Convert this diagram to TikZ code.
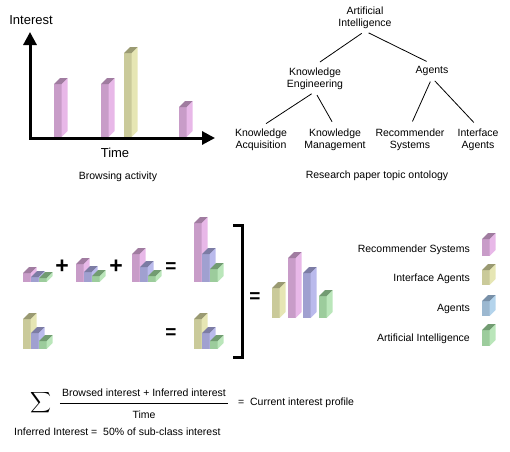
\documentclass[tikz,border=0pt]{standalone}
\usepackage{fontspec}
\setmainfont{Liberation Sans}
\usetikzlibrary{arrows.meta}

\definecolor{pinkF}{HTML}{C89CC8}\definecolor{pinkS}{HTML}{E8B8E8}\definecolor{pinkT}{HTML}{A07CA0}
\definecolor{yelF}{HTML}{CACA9A}\definecolor{yelS}{HTML}{E6E6B4}\definecolor{yelT}{HTML}{9A9A72}
\definecolor{bluF}{HTML}{A0A0D0}\definecolor{bluS}{HTML}{BABAEC}\definecolor{bluT}{HTML}{7C7CA4}
\definecolor{grnF}{HTML}{9CCC9C}\definecolor{grnS}{HTML}{BAE6BA}\definecolor{grnT}{HTML}{729C72}
\definecolor{skyF}{HTML}{9CB8D0}\definecolor{skyS}{HTML}{B4D4EC}\definecolor{skyT}{HTML}{7890A8}

% 3d bar: colour, left x, bottom y, front top y
\newcommand{\cubebar}[4]{%
  \fill[#1F] (#2,#3) rectangle (#2+7.5,#4);
  \fill[#1S] (#2+7.5,#3) -- (#2+13.5,#3-6) -- (#2+13.5,#4-6) -- (#2+7.5,#4) -- cycle;
  \fill[#1T] (#2,#4) -- (#2+6,#4-6) -- (#2+13.5,#4-6) -- (#2+7.5,#4) -- cycle;
}

\tikzset{
  lbl/.style={font=\fontsize{10.5}{12}\selectfont, inner sep=2pt},
  biglbl/.style={font=\fontsize{13}{15}\selectfont},
  topic/.style={lbl, align=center},
  branch/.style={line width=0.8pt, shorten <=4pt, shorten >=6pt},
  axis/.style={line width=3pt, {Triangle[length=13pt,width=13pt]}-{Triangle[length=13pt,width=13pt]}},
  op/.style={font=\bfseries\fontsize{19}{19}\selectfont},
  plus/.style={font=\bfseries\fontsize{23}{23}\selectfont}
}

\begin{document}
\begin{tikzpicture}[x=1pt,y=-1pt]
  \useasboundingbox (0,0) rectangle (510,451);

  % browsing activity
  \coordinate (origin) at (30,138);
  \coordinate (ytip) at (30,32);
  \coordinate (xtip) at (215,138);
  \draw[axis] (ytip) -- (origin) -- (xtip);
  \node[biglbl] (interest) at (31,20) {Interest};
  \node[biglbl] (time) at (115,153) {Time};
  \foreach \x/\yt/\c in {54/84/pink, 101/84/pink, 124/53/yel, 179/107/pink}
    \cubebar{\c}{\x}{137}{\yt};
  \node[lbl] (browsing) at (118,177) {Browsing activity};

  % topic ontology
  \node[topic] (ai) at (365,18) {Artificial\\Intelligence};
  \node[topic] (ke) at (315,78.5) {Knowledge\\Engineering};
  \node[topic] (agents) at (432,71) {Agents};
  \node[topic] (ka) at (261,140) {Knowledge\\Acquisition};
  \node[topic] (km) at (335,140) {Knowledge\\Management};
  \node[topic] (rs) at (410,140) {Recommender\\Systems};
  \node[topic] (ia) at (478,140) {Interface\\Agents};
  \foreach \a/\b in {ai/ke, ai/agents, ke/ka, ke/km, agents/rs, agents/ia}
    \draw[branch] (\a.south) -- (\b.north);
  \node[lbl] (ontology) at (377,176) {Research paper topic ontology};

  % interest sums
  \foreach \x/\y/\a/\pa/\pb/\pc in {23/282/pink/273/277/278, 76/282/pink/264/272/276,
    132/282/pink/254/267/276, 194/282/pink/223/254/269, 23/349/yel/319/333/341, 194/349/yel/319/333/341}
  {
    \cubebar{\a}{\x}{\y}{\pa};
    \cubebar{blu}{\x+8}{\y}{\pb};
    \cubebar{grn}{\x+16}{\y}{\pc};
  }
  \node[plus] (plus1) at (62,267) {+};
  \node[plus] (plus2) at (116,267) {+};
  \node[op] (eq1) at (171,268) {=};
  \node[op] (eq2) at (171,334) {=};
  \draw[line width=3pt] (233,225) -- (242,225) -- (242,357) -- (233,357);
  \node[op] (eq3) at (255,298) {=};
  \foreach \x/\yt/\c in {272/288/yel, 288/258/pink, 303/273/blu, 319/296/grn}
    \cubebar{\c}{\x}{318}{\yt};

  % legend
  \foreach \yt/\yb/\ty/\c/\txt in {239/256/250/pink/Recommender Systems, 270/285/279/yel/Interface Agents,
    301/316/309/sky/Agents, 330/346/339/grn/Artificial Intelligence}
  {
    \cubebar{\c}{482}{\yb}{\yt};
    \node[lbl, anchor=east] (leg\c) at (472,\ty) {\txt};
  }

  % formula
  \node[scale=1.45] (sum) at (41,403) {$\displaystyle\sum$};
  \node[lbl] (num) at (144,393) {Browsed interest + Inferred interest};
  \node[lbl] (den) at (144,415) {Time};
  \draw[line width=0.8pt] (num.west |- 0,403) -- (num.east |- 0,403);
  \node[lbl, anchor=west] (profile) at (236,403) {=\ \ Current interest profile};
  \node[lbl, anchor=west] (inferred) at (12,432) {Inferred Interest =\ \ 50\% of sub-class interest};
\end{tikzpicture}
\end{document}
